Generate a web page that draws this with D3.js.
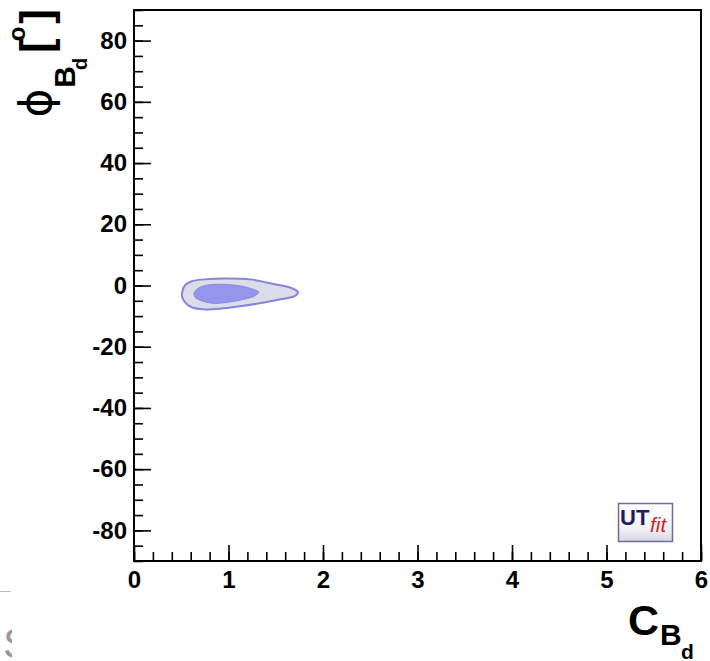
<!DOCTYPE html>
<html>
<head>
<meta charset="utf-8">
<script src="https://cdn.jsdelivr.net/npm/d3@7"></script>
<style>
  body { margin: 0; background: #fff; }
  svg { display: block; }
  .tick text { font-family: "Liberation Sans", Arial, sans-serif; font-weight: bold; font-size: 24px; fill: #000; }
  .tick line { stroke: #000; stroke-width: 1.6; }
</style>
</head>
<body>
<script>
// axis ranges and ticks
const xDomain = [0, 6];
const yDomain = [-90, 90];
const xMajor = [0, 1, 2, 3, 4, 5, 6];
const yMajor = [-80, -60, -40, -20, 0, 20, 40, 60, 80];

// 95% contour (C_Bd, phi_Bd)
const outerC = [0.51, 0.54, 0.61, 0.75, 0.96, 1.23, 1.49, 1.67, 1.735, 1.70, 1.55, 1.33, 1.12, 0.91, 0.75, 0.61, 0.54, 0.51];
const outerPhi = [-2.2, 0.1, 1.4, 2.0, 2.3, 2.0, 0.4, -0.9, -2.2, -3.5, -4.5, -5.8, -6.8, -7.6, -7.8, -7.1, -5.5, -3.8];

// 68% contour
const innerC = [0.635, 0.68, 0.77, 0.91, 1.07, 1.23, 1.32, 1.27, 1.12, 0.96, 0.83, 0.70, 0.645];
const innerPhi = [-2.5, -0.9, 0.1, 0.4, 0.1, -0.9, -2.2, -3.5, -4.8, -5.6, -5.8, -4.8, -3.8];

const W = 710, H = 661;
const margin = { top: 10, right: 9, bottom: 100, left: 134 },
      width = W - margin.left - margin.right,
      height = H - margin.top - margin.bottom;

const svg = d3.select("body").append("svg")
    .attr("width", W)
    .attr("height", H);

const g = svg.append("g")
    .attr("transform", `translate(${margin.left},${margin.top})`);

const x = d3.scaleLinear().domain(xDomain).range([0, width]);
const y = d3.scaleLinear().domain(yDomain).range([height, 0]);

// contours
const line = d3.line()
    .x(d => x(d[0]))
    .y(d => y(d[1]))
    .curve(d3.curveCatmullRomClosed);

g.append("path")
    .attr("d", line(outerC.map((c, i) => [c, outerPhi[i]])))
    .attr("fill", "#dcdcea")
    .attr("stroke", "#8585dc")
    .attr("stroke-width", 2);

g.append("path")
    .attr("d", line(innerC.map((c, i) => [c, innerPhi[i]])))
    .attr("fill", "#9595ec")
    .attr("stroke", "#8a8ae4")
    .attr("stroke-width", 1);

// minor ticks
const xMinor = d3.range(0, 6.0001, 0.2).map(v => +v.toFixed(1));
const yMinor = d3.range(-90, 90.0001, 5);

g.append("g")
    .attr("transform", `translate(0,${height})`)
    .call(d3.axisBottom(x).tickValues(xMinor).tickSize(-9).tickFormat(""))
    .call(a => a.select(".domain").remove());

g.append("g")
    .call(d3.axisLeft(y).tickValues(yMinor).tickSize(-9).tickFormat(""))
    .call(a => a.select(".domain").remove());

// major ticks with labels
g.append("g")
    .attr("transform", `translate(0,${height})`)
    .call(d3.axisBottom(x).tickValues(xMajor).tickSize(-16).tickPadding(10).tickFormat(d3.format("d")))
    .call(a => a.select(".domain").remove());

g.append("g")
    .call(d3.axisLeft(y).tickValues(yMajor).tickSize(-17).tickPadding(7).tickFormat(d => d < 0 ? "-" + Math.abs(d) : d))
    .call(a => a.select(".domain").remove());

// frame
g.append("rect")
    .attr("width", width)
    .attr("height", height)
    .attr("fill", "none")
    .attr("stroke", "#000")
    .attr("stroke-width", 2);

// x axis title
const font = "'Liberation Sans', Arial, sans-serif";
const xt = svg.append("text")
    .attr("font-family", font)
    .attr("font-weight", "bold")
    .attr("fill", "#000");
xt.append("tspan").attr("x", 628).attr("y", 635).attr("font-size", 43).text("C");
xt.append("tspan").attr("x", 660).attr("y", 645).attr("font-size", 30).text("B");
xt.append("tspan").attr("x", 681).attr("y", 659).attr("font-size", 21).text("d");

// y axis title (rotated)
function rot(txt, px, py, size, anchor, opts = {}) {
    svg.append("text")
        .attr("transform", `translate(${px},${py}) rotate(-90)`)
        .attr("text-anchor", anchor)
        .attr("font-family", opts.family || font)
        .attr("font-weight", opts.weight || "bold")
        .attr("font-size", size)
        .attr("fill", "#000")
        .text(txt);
}
rot("\u03D5", 51, 103, 44, "middle", { family: "'DejaVu Sans', sans-serif", weight: "normal" });
rot("B", 75, 77, 30, "middle");
rot("d", 87, 64, 20, "middle");
rot("[", 51, 53, 44, "start");
rot("o", 25, 34, 24, "middle");
rot("]", 51, 9, 44, "end");

// UTfit logo
const defs = svg.append("defs");
const grad = defs.append("linearGradient").attr("id", "logoGrad")
    .attr("x1", 0).attr("y1", 0).attr("x2", 0).attr("y2", 1);
grad.append("stop").attr("offset", "0%").attr("stop-color", "#ffffff");
grad.append("stop").attr("offset", "60%").attr("stop-color", "#f4f4f8");
grad.append("stop").attr("offset", "100%").attr("stop-color", "#d8d8e2");

svg.append("rect")
    .attr("x", 618.5).attr("y", 503.5)
    .attr("width", 54).attr("height", 38)
    .attr("fill", "url(#logoGrad)")
    .attr("stroke", "#6e6e9e")
    .attr("stroke-width", 1.5);
svg.append("text")
    .attr("x", 620).attr("y", 525)
    .attr("font-family", font).attr("font-weight", "bold")
    .attr("font-size", 22).attr("fill", "#1e1e5e")
    .text("UT");
svg.append("text")
    .attr("x", 650).attr("y", 532)
    .attr("font-family", font).attr("font-style", "italic")
    .attr("font-size", 21).attr("fill", "#d02828")
    .text("fit");

// cropped artefacts at the bottom-left edge
defs.append("clipPath").attr("id", "edgeClip")
    .append("rect").attr("x", 0).attr("y", 600).attr("width", 12).attr("height", 61);
svg.append("line")
    .attr("x1", 0).attr("x2", 11).attr("y1", 591.5).attr("y2", 591.5)
    .attr("stroke", "#bbb").attr("stroke-width", 1);
svg.append("text")
    .attr("x", 3).attr("y", 658)
    .attr("clip-path", "url(#edgeClip)")
    .attr("font-family", font).attr("font-size", 42)
    .attr("fill", "#999")
    .text("S");
</script>
</body>
</html>
